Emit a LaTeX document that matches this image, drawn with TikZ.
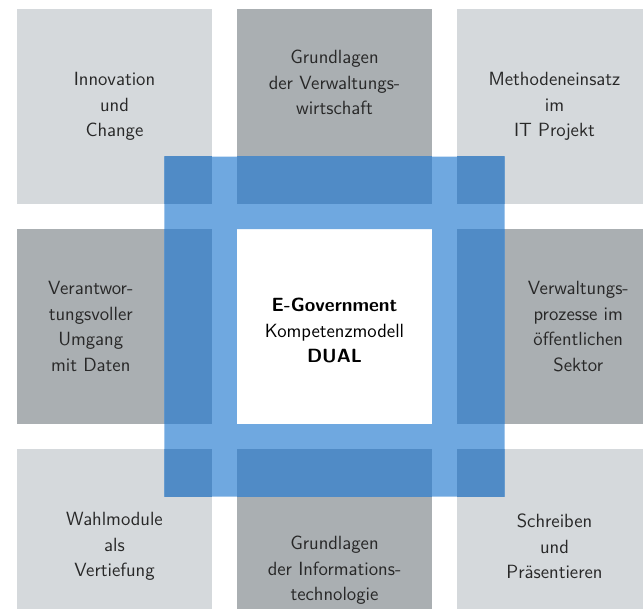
\documentclass[tikz,border=0pt]{standalone}
\usepackage{xcolor}
\usepackage{tikz}
\usetikzlibrary{positioning,calc}
\definecolor{lightcell}{RGB}{213,217,220}
\definecolor{darkcell}{RGB}{170,175,178}
\definecolor{ringblue}{RGB}{111,168,224}
\definecolor{overblue}{RGB}{80,139,198}
\definecolor{celltext}{RGB}{40,40,40}

\begin{document}
\begin{tikzpicture}[
      node distance = 0.625cm,
      font = \sffamily\fontsize{13.6}{18.1}\selectfont
    ]
    \tikzstyle{cell} = [rectangle, minimum width=4.875cm, minimum height=4.875cm, inner sep=0pt, outer sep=0pt]
    \tikzstyle{corner cell} = [cell, fill=lightcell, text=celltext, align=center]
    \tikzstyle{edge cell} = [cell, fill=darkcell]
    \tikzstyle{cell text} = [text=celltext, align=center]
    \useasboundingbox (-8.3625,8.1625) rectangle (7.7125,-7.0375);
    \node[cell, fill=white] (egov) {};
    \node[edge cell] (grvw) [above=of egov] {};
    \node[edge cell] (grit) [below=of egov] {};
    \node[edge cell] (vera) [left=of egov] {};
    \node[edge cell] (verw) [right=of egov] {};
    \node[corner cell] (innov) [left=of grvw] {Innovation\\und\\Change};
    \node[corner cell] (meth) [right=of grvw] {Methodeneinsatz\\im\\IT Projekt};
    \node[corner cell] (wahl) [left=of grit] {Wahlmodule\\als\\Vertiefung};
    \node[corner cell] (schr) [right=of grit] {Schreiben\\und\\Pr\"asentieren};
    \node[cell, minimum width=8.5cm, minimum height=8.5cm] (ring) at (egov) {};
    \fill[ringblue, even odd rule] (ring.south west) rectangle (ring.north east)
      (egov.south west) rectangle (egov.north east);
    \begin{scope}
      \clip (ring.south west) rectangle (ring.north east);
      \foreach \c in {innov,grvw,meth,vera,verw,wahl,grit,schr}
        \fill[overblue] (\c.south west) rectangle (\c.north east);
    \end{scope}
    \node[cell text] (grvw text) at ($(grvw.north)!0.5!(grvw.north |- ring.north)$) {Grundlagen\\der Verwaltungs-\\wirtschaft};
    \node[cell text] (grit text) at ($(grit.south)!0.5!(grit.south |- ring.south)$) {Grundlagen\\der Informations-\\technologie};
    \node[cell text] (vera text) at ($(vera.west)!0.5!(vera.west -| ring.west)$) {Verantwor-\\tungsvoller\\Umgang\\mit Daten};
    \node[cell text] (verw text) at ($(verw.east)!0.5!(verw.east -| ring.east)$) {Verwaltungs-\\prozesse im\\\"offentlichen\\Sektor};
    \node[cell text, text=black, yshift=-0.1cm] (egov text) at (egov) {\textbf{E-Government}\\Kompetenzmodell\\\textbf{DUAL}};
  \end{tikzpicture}
\end{document}
